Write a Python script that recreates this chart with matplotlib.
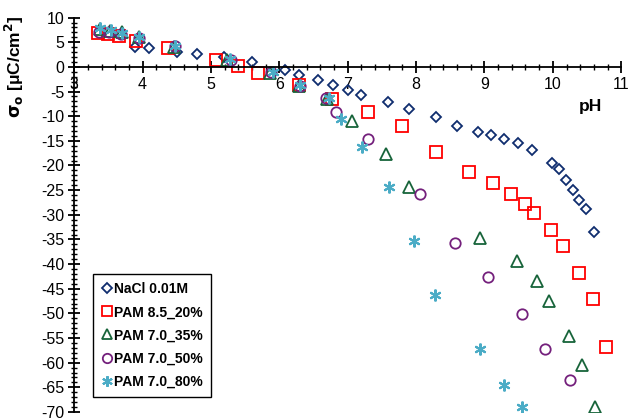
import numpy as np
import matplotlib
matplotlib.use('Agg')
import matplotlib.pyplot as plt
from matplotlib.ticker import MultipleLocator

plt.rcParams['font.family'] = ['Liberation Sans', 'DejaVu Sans']
plt.rcParams['axes.unicode_minus'] = False

# NaCl 0.01M
ph_nacl = [3.89, 4.09, 4.50, 4.79, 5.19, 5.60, 6.08, 6.29, 6.57, 6.78, 7.00, 7.19, 7.59, 7.89,
           8.29, 8.60, 8.90, 9.10, 9.29, 9.49, 9.69, 9.99, 10.09, 10.19, 10.30, 10.39, 10.49, 10.60]
sig_nacl = [4.1, 3.9, 3.1, 2.6, 2.0, 0.9, -0.6, -1.6, -2.6, -3.7, -4.7, -5.7, -7.2, -8.6,
            -10.2, -11.9, -13.3, -13.8, -14.6, -15.5, -16.9, -19.4, -20.7, -23.0, -25.0, -27.0, -28.9, -33.5]

# PAM 8.5_20%
ph_20 = [3.35, 3.50, 3.66, 3.91, 4.37, 5.08, 5.39, 5.69, 6.29, 6.77, 7.29, 7.79, 8.29, 8.77,
         9.12, 9.39, 9.59, 9.73, 9.97, 10.15, 10.39, 10.59, 10.78]
sig_20 = [6.8, 6.6, 6.2, 5.3, 3.8, 1.4, 0.1, -1.2, -3.7, -6.5, -9.2, -12.0, -17.2, -21.3,
          -23.6, -25.8, -27.8, -29.7, -33.1, -36.4, -41.8, -47.0, -56.8]

# PAM 7.0_35%
ph_35 = [3.37, 3.52, 3.70, 3.95, 4.46, 5.24, 5.86, 6.29, 6.70, 7.07, 7.56, 7.89, 8.94, 9.47,
         9.77, 9.94, 10.23, 10.43, 10.62]
sig_35 = [7.6, 7.2, 7.0, 6.0, 4.0, 1.3, -1.2, -3.9, -6.6, -10.9, -17.7, -24.3, -34.8, -39.4,
          -43.4, -47.5, -54.5, -60.4, -68.9]

# PAM 7.0_50%
ph_50 = [3.36, 3.51, 3.68, 3.95, 4.47, 5.29, 5.88, 6.30, 6.68, 6.83, 7.29, 8.05, 8.57, 9.05,
         9.55, 9.89, 10.25]
sig_50 = [7.0, 7.0, 6.7, 5.8, 4.2, 1.5, -1.1, -3.8, -6.4, -9.2, -14.7, -25.7, -35.7, -42.6,
          -50.2, -57.2, -63.6]

# PAM 7.0_80%
ph_80 = [3.37, 3.54, 3.70, 3.95, 4.47, 5.28, 5.90, 6.30, 6.73, 6.90, 7.21, 7.60, 7.97, 8.27,
         8.94, 9.29, 9.55]
sig_80 = [7.9, 7.4, 6.9, 6.1, 4.3, 1.6, -1.0, -3.7, -6.3, -10.6, -16.2, -24.3, -35.4, -46.2,
          -57.2, -64.5, -69.0]

fig = plt.figure(figsize=(6.29, 4.18), dpi=100)
ax = fig.add_axes([0.118, 0.0144, 0.8696, 0.9435])

ax.plot(ph_nacl, sig_nacl, ls='none', marker='D', ms=5.3, mfc='none', mec='#0F2D6E', mew=1.3,
        label='NaCl 0.01M')
ax.plot(ph_20, sig_20, ls='none', marker='s', ms=8, mfc='none', mec='#FF0000', mew=1.3,
        label='PAM 8.5_20%')
ax.plot(ph_35, sig_35, ls='none', marker='^', ms=8, mfc='none', mec='#17643A', mew=1.3,
        label='PAM 7.0_35%')
ax.plot(ph_50, sig_50, ls='none', marker='o', ms=7.5, mfc='none', mec='#74207C', mew=1.3,
        label='PAM 7.0_50%')
ax.plot(ph_80, sig_80, ls='none', marker=(6, 2, 0), ms=8.5, mfc='none', mec='#4BACC6', mew=1.5,
        label='PAM 7.0_80%')

ax.set_xlim(3, 11)
ax.set_ylim(-70, 10)
ax.spines['top'].set_visible(False)
ax.spines['right'].set_visible(False)
ax.spines['bottom'].set_position(('data', 0))
ax.spines['left'].set_linewidth(1.3)
ax.spines['bottom'].set_linewidth(1.3)

ax.xaxis.set_major_locator(MultipleLocator(1))
ax.xaxis.set_minor_locator(MultipleLocator(0.2))
ax.yaxis.set_major_locator(MultipleLocator(5))
ax.yaxis.set_minor_locator(MultipleLocator(1))
ax.tick_params(which='major', direction='inout', length=8, width=1.3, labelsize=11.5, pad=3)
ax.tick_params(which='minor', direction='inout', length=4, width=1.0)
ax.tick_params(axis='x', which='major', pad=3)

ax.set_ylabel(r'$\mathbf{\sigma_o}$ [μC/cm$^\mathbf{2}$]', fontsize=12.5, fontweight='bold')
ax.yaxis.set_label_coords(-0.088, 0.875)
ax.text(10.55, -8.1, 'pH', fontsize=12.5, fontweight='bold', ha='center', va='center')

leg = ax.legend(loc='upper left', bbox_to_anchor=(0.035, 0.35), borderaxespad=0,
                prop={'weight': 'bold', 'size': 10}, handlelength=0.7, handletextpad=0.15,
                labelspacing=0.65, fancybox=False, framealpha=1, edgecolor='black',
                borderpad=0.6, markerscale=0.9)
leg.get_frame().set_linewidth(1.0)

fig.savefig('out.png', dpi=100)
